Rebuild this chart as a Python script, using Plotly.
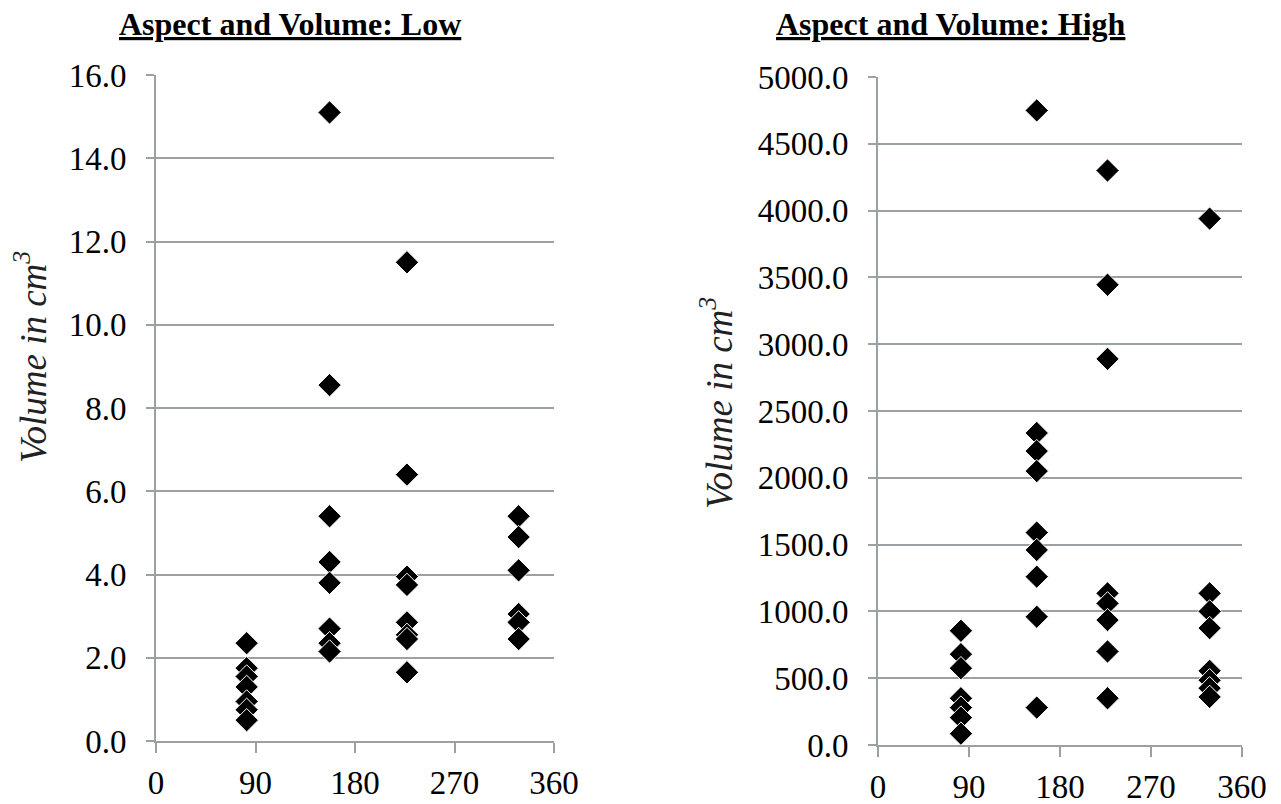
import plotly.graph_objects as go

# ---- data ----
aspect_cols = [82, 157, 227, 328]

low_col1 = [2.35, 1.75, 1.55, 1.3, 0.95, 0.75, 0.5]
low_col2 = [15.1, 8.55, 5.4, 4.3, 3.8, 2.7, 2.35, 2.15]
low_col3 = [11.5, 6.4, 3.95, 3.75, 2.85, 2.55, 2.45, 1.65]
low_col4 = [5.4, 4.9, 4.1, 3.05, 2.85, 2.45]

high_col1 = [855, 680, 575, 350, 280, 205, 85]
high_col2 = [4750, 2335, 2200, 2050, 1590, 1460, 1260, 960, 280]
high_col3 = [4300, 3445, 2890, 1135, 1060, 935, 700, 350]
high_col4 = [3940, 1135, 1000, 875, 555, 485, 425, 360]

x_ticks = [0, 90, 180, 270, 360]
low_yticks = [0, 2, 4, 6, 8, 10, 12, 14, 16]
high_yticks = [0, 500, 1000, 1500, 2000, 2500, 3000, 3500, 4000, 4500, 5000]

titles = ["Aspect and Volume: Low", "Aspect and Volume: High"]
ytitle = "Volume in cm<sup>3</sup>"


def expand(cols, vals):
    xs, ys = [], []
    for c, v in zip(cols, vals):
        xs += [c] * len(v)
        ys += v
    return xs, ys


lx, ly = expand(aspect_cols, [low_col1, low_col2, low_col3, low_col4])
hx, hy = expand(aspect_cols, [high_col1, high_col2, high_col3, high_col4])

FONT = "Liberation Serif"
GRID = "#9ba0a4"
marker = dict(symbol="diamond", size=18, color="black", line=dict(color="white", width=1))

fig = go.Figure()
fig.add_trace(go.Scatter(x=lx, y=ly, mode="markers", marker=marker, xaxis="x", yaxis="y", showlegend=False))
fig.add_trace(go.Scatter(x=hx, y=hy, mode="markers", marker=marker, xaxis="x2", yaxis="y2", showlegend=False))

W, H = 1281, 804


def xax(domain, anchor):
    return dict(domain=domain, anchor=anchor, range=[0, 360], tickvals=x_ticks,
                ticks="outside", ticklen=10, tickwidth=2, tickcolor=GRID,
                showline=True, linecolor=GRID, linewidth=2, showgrid=False, zeroline=False,
                automargin=False,
                tickfont=dict(family=FONT, size=33, color="black"), ticklabelstandoff=1)


def yax(domain, anchor, rng, tv):
    return dict(domain=domain, anchor=anchor, range=rng, tickvals=tv, tickformat=".1f",
                ticks="outside", ticklen=8, tickwidth=2, tickcolor=GRID,
                showline=True, linecolor=GRID, linewidth=2, automargin=False,
                showgrid=True, gridcolor=GRID, gridwidth=2, zeroline=False,
                tickfont=dict(family=FONT, size=33, color="black"), ticklabelstandoff=13)


fig.update_layout(
    width=W, height=H,
    margin=dict(l=0, r=0, t=0, b=0, autoexpand=False),
    paper_bgcolor="white", plot_bgcolor="white",
    xaxis=xax([156 / W, 554 / W], "y"),
    yaxis=yax([1 - 741 / H, 1 - 75 / H], "x", [0, 16], low_yticks),
    xaxis2=xax([878 / W, 1242 / W], "y2"),
    yaxis2=yax([1 - 745 / H, 1 - 77 / H], "x2", [0, 5000], high_yticks),
    annotations=[
        dict(text="<b><u>" + titles[0] + "</u></b>", x=290 / W, y=1 - 24 / H, xref="paper", yref="paper",
             xanchor="center", yanchor="middle", showarrow=False, font=dict(family=FONT, size=32, color="black")),
        dict(text="<b><u>" + titles[1] + "</u></b>", x=951 / W, y=1 - 24 / H, xref="paper", yref="paper",
             xanchor="center", yanchor="middle", showarrow=False, font=dict(family=FONT, size=32, color="black")),
        dict(text="<i>" + ytitle + "</i>", x=30 / W, y=1 - 357 / H, xref="paper", yref="paper",
             xanchor="center", yanchor="middle", textangle=-90, showarrow=False,
             font=dict(family=FONT, size=37, color="#222")),
        dict(text="<i>" + ytitle + "</i>", x=716 / W, y=1 - 403 / H, xref="paper", yref="paper",
             xanchor="center", yanchor="middle", textangle=-90, showarrow=False,
             font=dict(family=FONT, size=37, color="#222")),
    ],
)

fig.write_html("out.html")
